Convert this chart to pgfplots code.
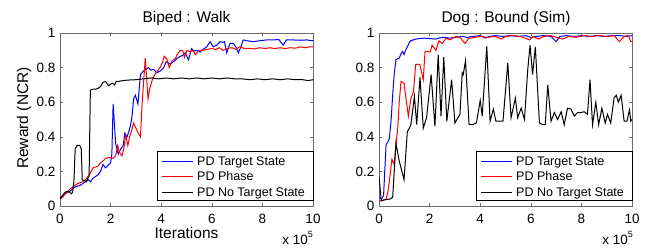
\documentclass[border=0pt]{standalone}
\usepackage{pgfplots}
\pgfplotsset{compat=1.18}
\usepackage{fontspec}
\setmainfont{Liberation Sans}
\definecolor{framegray}{rgb}{0.42,0.42,0.42}
\tikzset{
  pblue/.style={draw=blue, line width=1pt},
  pred/.style={draw=red, line width=1pt},
  pblack/.style={draw=black, line width=1pt},
  legtext/.style={anchor=base west, inner sep=0pt, font=\fontsize{12.5}{12.5}\selectfont},
}
\pgfplotsset{
  mystyle/.style={
    scale only axis, width=253pt, height=173pt,
    xmin=0, xmax=10, ymin=0, ymax=1,
    xtick={0,2,4,6,8,10}, ytick={0,0.2,0.4,0.6,0.8,1},
    tick align=inside, major tick length=3pt,
    axis line style={draw=framegray, line width=0.6pt},
    tick style={draw=framegray, line width=0.6pt},
    tick label style={font=\fontsize{13.5}{13.5}\selectfont},
    /pgf/number format/assume math mode=true,
    xticklabel shift=5pt,
    yticklabel style={xshift=-1pt},
  },
}
\begin{document}
\begin{tikzpicture}
\begin{axis}[mystyle, at={(60pt,41pt)}, anchor=south west]
\addplot[pblue] coordinates {(0,0.04) (0.1,0.06) (0.2,0.07) (0.3,0.08) (0.4,0.085) (0.5,0.1) (0.6,0.11) (0.7,0.115) (0.8,0.12) (0.9,0.13) (1.0,0.14) (1.1,0.155) (1.2,0.14) (1.3,0.16) (1.4,0.17) (1.5,0.18) (1.6,0.2) (1.7,0.24) (1.8,0.22) (1.9,0.235) (2.0,0.25) (2.05,0.3) (2.1,0.59) (2.2,0.36) (2.3,0.3) (2.4,0.33) (2.5,0.35) (2.56,0.42) (2.65,0.40) (2.72,0.43) (2.78,0.46) (2.85,0.52) (2.91,0.62) (2.98,0.64) (3.08,0.59) (3.18,0.76) (3.3,0.78) (3.4,0.79) (3.5,0.8) (3.6,0.785) (3.7,0.79) (3.82,0.77) (3.96,0.78) (4.1,0.8) (4.2,0.835) (4.35,0.82) (4.5,0.835) (4.6,0.85) (4.75,0.865) (4.85,0.87) (4.95,0.885) (5.08,0.845) (5.2,0.91) (5.3,0.895) (5.4,0.9) (5.54,0.89) (5.65,0.905) (5.8,0.92) (5.93,0.95) (6.06,0.92) (6.2,0.93) (6.33,0.95) (6.45,0.945) (6.5,0.95) (6.59,0.885) (6.72,0.94) (6.85,0.94) (6.95,0.92) (7.05,0.885) (7.15,0.92) (7.24,0.96) (7.4,0.955) (7.64,0.95) (7.9,0.955) (8.16,0.96) (8.4,0.96) (8.65,0.962) (8.82,0.93) (8.95,0.96) (9.2,0.96) (9.5,0.958) (9.75,0.96) (10,0.955)};
\addplot[pred] coordinates {(0,0.04) (0.1,0.05) (0.2,0.07) (0.3,0.08) (0.4,0.1) (0.5,0.11) (0.6,0.12) (0.7,0.13) (0.8,0.135) (0.9,0.14) (1.0,0.15) (1.1,0.17) (1.2,0.19) (1.3,0.22) (1.4,0.225) (1.5,0.23) (1.6,0.25) (1.7,0.26) (1.8,0.275) (1.9,0.28) (2.0,0.28) (2.1,0.275) (2.2,0.29) (2.28,0.35) (2.35,0.31) (2.45,0.29) (2.52,0.33) (2.6,0.41) (2.68,0.35) (2.75,0.4) (2.82,0.43) (2.91,0.48) (3.0,0.45) (3.1,0.42) (3.18,0.40) (3.25,0.6) (3.37,0.855) (3.48,0.62) (3.55,0.68) (3.65,0.73) (3.75,0.76) (3.85,0.78) (3.95,0.8) (4.05,0.83) (4.12,0.865) (4.22,0.85) (4.32,0.8) (4.43,0.84) (4.55,0.85) (4.65,0.88) (4.76,0.9) (4.85,0.9) (4.92,0.86) (5.02,0.9) (5.15,0.89) (5.25,0.9) (5.35,0.875) (5.5,0.9) (5.65,0.9) (5.8,0.905) (6.0,0.91) (6.15,0.905) (6.3,0.915) (6.45,0.9) (6.6,0.91) (6.8,0.915) (6.95,0.905) (7.1,0.92) (7.3,0.91) (7.5,0.912) (7.7,0.908) (7.9,0.915) (8.1,0.91) (8.3,0.915) (8.5,0.91) (8.7,0.915) (8.9,0.91) (9.1,0.915) (9.3,0.912) (9.5,0.92) (9.7,0.915) (9.85,0.92) (10,0.92)};
\addplot[pblack] coordinates {(0,0.04) (0.1,0.06) (0.2,0.08) (0.3,0.085) (0.38,0.08) (0.45,0.07) (0.5,0.08) (0.55,0.14) (0.6,0.33) (0.68,0.35) (0.78,0.35) (0.84,0.33) (0.88,0.15) (0.95,0.15) (1.05,0.14) (1.1,0.16) (1.15,0.17) (1.2,0.67) (1.3,0.675) (1.4,0.675) (1.5,0.68) (1.6,0.69) (1.7,0.715) (1.8,0.72) (1.87,0.705) (1.93,0.695) (2.0,0.705) (2.08,0.71) (2.15,0.7) (2.22,0.72) (2.3,0.72) (2.5,0.725) (2.7,0.728) (3.0,0.73) (3.3,0.735) (3.6,0.74) (3.9,0.735) (4.2,0.74) (4.5,0.735) (4.8,0.74) (5.1,0.735) (5.4,0.74) (5.7,0.735) (6.0,0.74) (6.3,0.735) (6.6,0.74) (6.9,0.735) (7.2,0.735) (7.5,0.73) (7.8,0.735) (8.1,0.73) (8.4,0.735) (8.7,0.73) (9.0,0.735) (9.3,0.73) (9.6,0.73) (9.8,0.725) (10,0.73)};
\end{axis}
\begin{axis}[mystyle, at={(379pt,41pt)}, anchor=south west]
\addplot[pblue] coordinates {(0.04,0.046) (0.1,0.04) (0.18,0.06) (0.28,0.354) (0.35,0.37) (0.41,0.39) (0.48,0.5) (0.54,0.64) (0.6,0.76) (0.67,0.846) (0.8,0.855) (0.87,0.88) (0.93,0.894) (0.99,0.875) (1.05,0.9) (1.12,0.92) (1.2,0.945) (1.25,0.955) (1.35,0.96) (1.46,0.965) (1.6,0.968) (1.8,0.97) (2.0,0.968) (2.25,0.965) (2.4,0.972) (2.6,0.975) (2.8,0.97) (3.0,0.975) (3.3,0.98) (3.5,0.975) (3.7,0.98) (4.0,0.985) (4.2,0.97) (4.35,0.98) (4.6,0.985) (4.9,0.98) (5.2,0.985) (5.5,0.98) (5.8,0.985) (6.0,0.975) (6.2,0.98) (6.5,0.985) (6.8,0.98) (7.0,0.95) (7.15,0.98) (7.4,0.985) (7.7,0.98) (8.0,0.985) (8.3,0.98) (8.6,0.985) (8.9,0.98) (9.2,0.985) (9.5,0.985) (9.8,0.98) (10,0.985)};
\addplot[pred] coordinates {(0,0.03) (0.1,0.03) (0.28,0.04) (0.35,0.08) (0.41,0.143) (0.51,0.27) (0.6,0.24) (0.67,0.35) (0.74,0.45) (0.8,0.6) (0.87,0.72) (0.99,0.71) (1.05,0.64) (1.16,0.52) (1.26,0.62) (1.36,0.66) (1.45,0.817) (1.55,0.82) (1.62,0.815) (1.75,0.73) (1.82,0.894) (2.02,0.89) (2.1,0.93) (2.25,0.9) (2.37,0.955) (2.5,0.94) (2.65,0.97) (2.8,0.96) (3.04,0.98) (3.2,0.975) (3.4,0.94) (3.56,0.97) (3.8,0.975) (4.0,0.98) (4.3,0.975) (4.6,0.98) (4.83,0.965) (5.0,0.98) (5.3,0.985) (5.6,0.98) (5.95,0.96) (6.1,0.98) (6.3,0.965) (6.5,0.98) (6.8,0.985) (7.0,0.975) (7.26,0.965) (7.5,0.98) (7.8,0.975) (8.1,0.985) (8.4,0.98) (8.7,0.985) (9.0,0.98) (9.3,0.985) (9.5,0.95) (9.7,0.98) (9.85,0.985) (9.96,0.95) (10,0.95)};
\addplot[pblack] coordinates {(0,0.17) (0.09,0.03) (0.2,0.035) (0.43,0.04) (0.54,0.05) (0.67,0.364) (0.8,0.26) (0.99,0.152) (1.12,0.43) (1.2,0.45) (1.26,0.47) (1.4,0.634) (1.49,0.47) (1.62,0.744) (1.75,0.45) (1.88,0.51) (2.06,0.76) (2.21,0.46) (2.34,0.875) (2.45,0.52) (2.56,0.86) (2.68,0.49) (2.87,0.73) (3.0,0.48) (3.2,0.53) (3.29,0.77) (3.33,0.76) (3.42,0.84) (3.56,0.47) (3.7,0.47) (3.85,0.48) (4.0,0.61) (4.08,0.52) (4.26,0.923) (4.39,0.49) (4.52,0.56) (4.62,0.49) (4.75,0.49) (4.9,0.49) (5.09,0.827) (5.22,0.51) (5.39,0.624) (5.48,0.51) (5.62,0.566) (5.75,0.50) (5.88,0.79) (5.97,0.93) (6.07,0.76) (6.18,0.92) (6.34,0.48) (6.47,0.47) (6.57,0.47) (6.67,0.70) (6.8,0.49) (6.93,0.54) (7.06,0.50) (7.2,0.545) (7.32,0.47) (7.45,0.565) (7.59,0.56) (7.72,0.52) (7.85,0.54) (7.98,0.54) (8.11,0.545) (8.24,0.53) (8.34,0.73) (8.44,0.47) (8.57,0.60) (8.68,0.47) (8.81,0.565) (8.94,0.48) (9.03,0.53) (9.16,0.48) (9.29,0.624) (9.38,0.64) (9.46,0.60) (9.57,0.64) (9.69,0.49) (9.8,0.49) (9.9,0.555) (9.95,0.49) (10,0.5)};
\end{axis}
% legend, left panel
\draw[black, line width=0.5pt, fill=white] (157pt,47pt) rectangle (313pt,96pt);
\draw[pblue] (162pt,85.3pt) -- (193pt,85.3pt);
\draw[pred] (162pt,70.3pt) -- (193pt,70.3pt);
\draw[pblack] (162pt,55pt) -- (193pt,55pt);
\node[legtext] at (197pt,81.3pt) {PD Target State};
\node[legtext] at (197pt,66.3pt) {PD Phase};
\node[legtext] at (197pt,51pt) {PD No Target State};
% legend, right panel
\draw[black, line width=0.5pt, fill=white] (476pt,47pt) rectangle (632pt,96pt);
\draw[pblue] (481pt,85.3pt) -- (512pt,85.3pt);
\draw[pred] (481pt,70.3pt) -- (512pt,70.3pt);
\draw[pblack] (481pt,55pt) -- (512pt,55pt);
\node[legtext] at (516pt,81.3pt) {PD Target State};
\node[legtext] at (516pt,66.3pt) {PD Phase};
\node[legtext] at (516pt,51pt) {PD No Target State};
\node[anchor=base, font=\fontsize{15.5}{15.5}\selectfont] at (186.5pt,225pt) {Biped : Walk};
\node[anchor=base, font=\fontsize{15.5}{15.5}\selectfont] at (506pt,225pt) {Dog : Bound (Sim)};
\node[anchor=base, font=\fontsize{15.5}{15.5}\selectfont] at (186.5pt,8.5pt) {Iterations};
\node[rotate=90, anchor=center, font=\fontsize{15.5}{15.5}\selectfont] at (24pt,129pt) {Reward (NCR)};
\node[anchor=base east, font=\fontsize{13.5}{13.5}\selectfont, inner sep=0pt] at (313pt,3pt) {x 10\raisebox{0.5em}{\fontsize{9}{9}\selectfont 5}};
\node[anchor=base east, font=\fontsize{13.5}{13.5}\selectfont, inner sep=0pt] at (633pt,3pt) {x 10\raisebox{0.5em}{\fontsize{9}{9}\selectfont 5}};
\pgfresetboundingbox
\path[use as bounding box] (0pt,0pt) rectangle (652pt,247pt);
\end{tikzpicture}
\end{document}
